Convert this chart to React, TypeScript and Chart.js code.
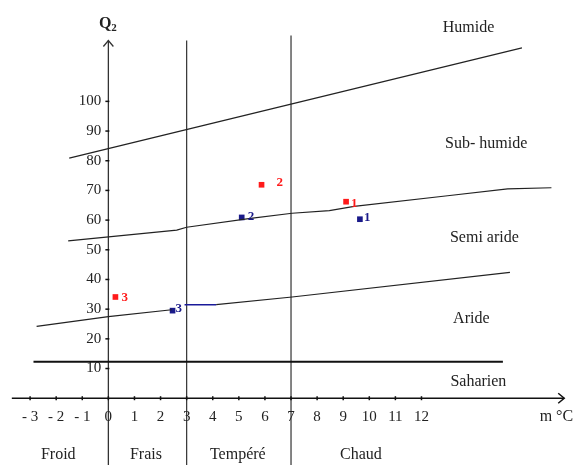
import React, { useEffect, useRef } from "react";
import { Chart, registerables } from "chart.js";

Chart.register(...registerables);

// ---- data ----
const xTickValues = [-3, -2, -1, 0, 1, 2, 3, 4, 5, 6, 7, 8, 9, 10, 11, 12];
const xTickLabels = ["- 3", "- 2", "- 1", "0", "1", "2", "3", "4", "5", "6", "7", "8", "9", "10", "11", "12"];
const yTickValues = [10, 20, 30, 40, 50, 60, 70, 80, 90, 100];
const yTickLabels = ["10", "20", "30", "40", "50", "60", "70", "80", "90", "100"];

// bioclimatic boundaries (m °C, Q2)
const humideX = [-1.5, 15.85];
const humideY = [80.9, 118];
const subHumideX = [-1.54, 2.62, 3.0, 5.45, 7.04, 8.47, 9.42, 13.0, 15.3, 16.98];
const subHumideY = [53.0, 56.6, 57.6, 60.6, 62.3, 63.2, 64.6, 68.2, 70.5, 70.9];
const arideLeftX = [-2.75, 0, 2.43];
const arideLeftY = [24.2, 27.5, 29.8];
const arideBlueX = [2.92, 4.13];
const arideBlueY = [31.5, 31.5];
const arideRightX = [4.13, 7.04, 15.39];
const arideRightY = [31.5, 34.1, 42.4];
const saharienX = [-2.87, 15.12];
const saharienY = [12.25, 12.25];

// temperature class limits
const tempLimits = [3, 7];
const tempLimitTop = [120.5, 122.2];

// stations
const stationNames = ["1", "2", "3"];
const redX = [9.11, 5.87, 0.27];
const redY = [66.2, 71.9, 34.1];
const blueX = [9.64, 5.11, 2.46];
const blueY = [60.3, 60.9, 29.5];

// zone names
const zoneTexts = ["Humide", "Sub- humide", "Semi aride", "Aride", "Saharien"];
const zoneX = [13.8, 14.48, 14.41, 13.91, 14.18];
const zoneY = [124.8, 85.8, 54.0, 26.8, 5.6];
const tempTexts = ["Froid", "Frais", "Tempéré", "Chaud"];
const tempTextX = [-1.92, 1.44, 4.96, 9.68];

// ---- styles ----
const redLabelOffset = [[5, 2], [15, -2], [6, 1]];
const blueLabelOffset = [[4, -2], [6, -1], [3, -2]];
const SERIF = "'Liberation Serif', 'Times New Roman', serif";

const pts = (xs: number[], ys: number[]) => xs.map((x, i) => ({ x, y: ys[i] }));

const lineDs = (xs: number[], ys: number[], color: string, width: number) => ({
  type: "line" as const,
  data: pts(xs, ys),
  borderColor: color,
  borderWidth: width,
  pointRadius: 0,
  showLine: true,
  fill: false,
  tension: 0,
});

const decorPlugin = {
  id: "decor",
  beforeDatasetsDraw(chart: any) {
    const ctx = chart.ctx;
    const xs = chart.scales.x;
    const ys = chart.scales.y;
    const X = (v: number) => xs.getPixelForValue(v);
    const Y = (v: number) => ys.getPixelForValue(v);
    ctx.save();
    // temperature limits
    ctx.strokeStyle = "#333";
    ctx.lineWidth = 1.2;
    tempLimits.forEach((t, i) => {
      ctx.beginPath();
      ctx.moveTo(X(t), Y(tempLimitTop[i]));
      ctx.lineTo(X(t), Y(ys.min));
      ctx.stroke();
    });
    // y axis
    ctx.strokeStyle = "#333";
    ctx.lineWidth = 1.3;
    ctx.beginPath();
    ctx.moveTo(X(0), Y(ys.min));
    ctx.lineTo(X(0), Y(120.5));
    ctx.stroke();
    ctx.beginPath();
    ctx.moveTo(X(0) - 5, Y(120.5) + 6);
    ctx.lineTo(X(0), Y(120.5));
    ctx.lineTo(X(0) + 5, Y(120.5) + 6);
    ctx.stroke();
    // x axis
    ctx.strokeStyle = "#111";
    ctx.lineWidth = 1.5;
    ctx.beginPath();
    ctx.moveTo(X(-3.7), Y(0));
    ctx.lineTo(X(17.47), Y(0));
    ctx.stroke();
    ctx.beginPath();
    ctx.moveTo(X(17.47) - 6, Y(0) - 5);
    ctx.lineTo(X(17.47), Y(0));
    ctx.lineTo(X(17.47) - 6, Y(0) + 5);
    ctx.stroke();
    // ticks
    ctx.fillStyle = "#222";
    ctx.font = `15px ${SERIF}`;
    ctx.lineWidth = 1.5;
    ctx.textAlign = "center";
    ctx.textBaseline = "middle";
    xTickValues.forEach((v, i) => {
      const px = X(v);
      ctx.beginPath();
      ctx.moveTo(px, Y(0) - 2);
      ctx.lineTo(px, Y(0) + 2);
      ctx.stroke();
      ctx.fillText(xTickLabels[i], px, Y(0) + 19);
    });
    ctx.textAlign = "right";
    yTickValues.forEach((v, i) => {
      const py = Y(v);
      ctx.beginPath();
      ctx.moveTo(X(0) - 3, py);
      ctx.lineTo(X(0) + 1, py);
      ctx.stroke();
      ctx.fillText(yTickLabels[i], X(0) - 7, py);
    });
    ctx.restore();
  },
  afterDatasetsDraw(chart: any) {
    const ctx = chart.ctx;
    const xs = chart.scales.x;
    const ys = chart.scales.y;
    const X = (v: number) => xs.getPixelForValue(v);
    const Y = (v: number) => ys.getPixelForValue(v);
    ctx.save();
    ctx.textBaseline = "middle";
    ctx.textAlign = "left";
    ctx.font = `bold 13px ${SERIF}`;
    stationNames.forEach((n, i) => {
      ctx.fillStyle = "#ff1a1a";
      ctx.fillText(n, X(redX[i]) + redLabelOffset[i][0], Y(redY[i]) + redLabelOffset[i][1]);
      ctx.fillStyle = "#1a1a8a";
      ctx.fillText(n, X(blueX[i]) + blueLabelOffset[i][0], Y(blueY[i]) + blueLabelOffset[i][1]);
    });
    ctx.fillStyle = "#222";
    ctx.textAlign = "center";
    ctx.font = `16px ${SERIF}`;
    zoneTexts.forEach((t, i) => ctx.fillText(t, X(zoneX[i]), Y(zoneY[i])));
    tempTexts.forEach((t, i) => ctx.fillText(t, X(tempTextX[i]), Y(-18.9)));
    ctx.fillText("m °C", X(17.17), Y(-6.3));
    // Q2 label
    ctx.font = `bold 16px ${SERIF}`;
    ctx.textAlign = "right";
    ctx.fillText("Q", X(0) + 3, Y(126.2));
    ctx.font = `bold 11px ${SERIF}`;
    ctx.textAlign = "left";
    ctx.fillText("2", X(0) + 3, Y(124.8));
    ctx.restore();
  },
};

export default function App() {
  const ref = useRef<HTMLCanvasElement>(null);
  useEffect(() => {
    if (!ref.current) return;
    const chart = new Chart(ref.current, {
      type: "scatter",
      data: {
        datasets: [
          lineDs(humideX, humideY, "#222", 1.2),
          lineDs(subHumideX, subHumideY, "#222", 1.2),
          lineDs(arideLeftX, arideLeftY, "#222", 1.2),
          lineDs(arideBlueX, arideBlueY, "#1a1a9a", 1.4),
          lineDs(arideRightX, arideRightY, "#222", 1.2),
          lineDs(saharienX, saharienY, "#111", 2),
          {
            type: "scatter" as const,
            data: pts(redX, redY),
            pointStyle: "rect",
            pointRadius: 4,
            backgroundColor: "#ff1a1a",
            borderColor: "#ff1a1a",
            borderWidth: 0,
          },
          {
            type: "scatter" as const,
            data: pts(blueX, blueY),
            pointStyle: "rect",
            pointRadius: 4,
            backgroundColor: "#1a1a8a",
            borderColor: "#1a1a8a",
            borderWidth: 0,
          },
        ] as any,
      },
      options: {
        animation: false,
        responsive: false,
        maintainAspectRatio: false,
        layout: { padding: 0 },
        plugins: { legend: { display: false }, tooltip: { enabled: false } },
        scales: {
          x: { type: "linear", display: false, min: -4, max: 17.96 },
          y: { type: "linear", display: false, min: -22.5, max: 132.8 },
        },
      },
      plugins: [decorPlugin],
    });
    return () => chart.destroy();
  }, []);
  return (
    <div style={{ position: "fixed", left: 0, top: 0, width: 581, height: 469, background: "#fff" }}>
      <canvas ref={ref} width={581} height={469} style={{ display: "block" }} />
    </div>
  );
}
